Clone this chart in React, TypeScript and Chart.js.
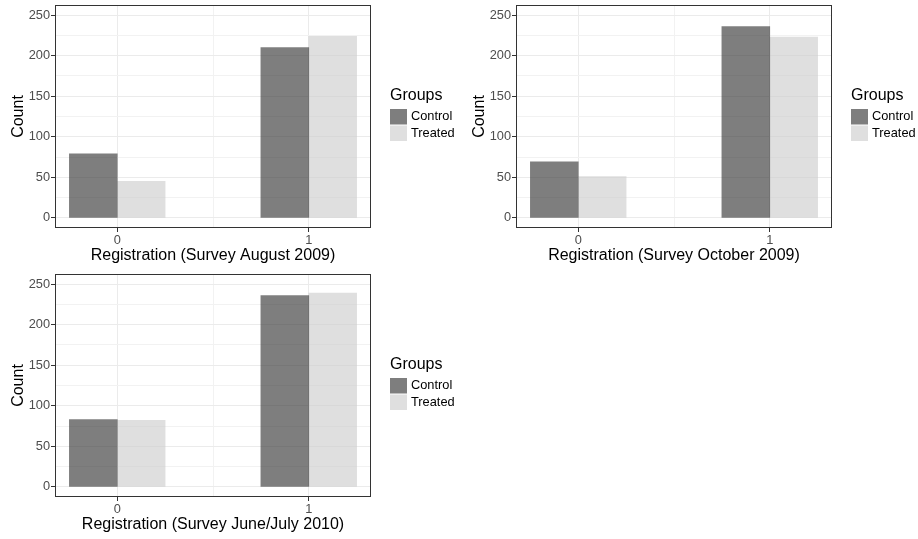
import React, { useEffect, useRef } from "react";
import { Chart, registerables } from "chart.js";

Chart.register(...registerables);

// ---------- data ----------
const categories = [0, 1];
const groupLabels = ["Control", "Treated"];
const aug2009Control = [79, 210];
const aug2009Treated = [45, 224];
const oct2009Control = [69, 236];
const oct2009Treated = [51, 223];
const jun2010Control = [83, 236];
const jun2010Treated = [82, 239];
const yTickValues = [0, 25, 50, 75, 100, 125, 150, 175, 200, 225, 250];
const yLabelValues = [0, 50, 100, 150, 200, 250];
const xGridValues = [0, 0.5, 1];
const xLabelValues = [0, 1];
const titleAug = "Registration (Survey August 2009)";
const titleOct = "Registration (Survey October 2009)";
const titleJun = "Registration (Survey June/July 2010)";
const yTitle = "Count";
const legendTitle = "Groups";

// ---------- styles ----------
const FONT = '"Liberation Sans", Arial, Helvetica, sans-serif';
const CONTROL_COLOR = "rgba(51,51,51,0.63)";
const TREATED_COLOR = "rgba(204,204,204,0.63)";
const MAJOR_GRID = "#ebebeb";
const MINOR_GRID = "#f2f2f2";
const TICK_COLOR = "#333333";
const TICK_TEXT = "#4d4d4d";

const CANVAS_W = 459;
const CANVAS_H = 270;

const panelPlugin = {
  id: "ggPanel",
  afterDatasetsDraw(chart: any) {
    const { ctx, chartArea } = chart;
    ctx.save();
    ctx.strokeStyle = "#333333";
    ctx.lineWidth = 1;
    ctx.strokeRect(
      chartArea.left + 0.5,
      chartArea.top + 0.5,
      chartArea.right - chartArea.left - 1,
      chartArea.bottom - chartArea.top - 1
    );
    ctx.restore();
  },
  afterDraw(chart: any) {
    const { ctx, chartArea } = chart;
    const x0 = chartArea.right + 19;
    const cy = (chartArea.top + chartArea.bottom) / 2;
    ctx.save();
    ctx.textAlign = "left";
    ctx.textBaseline = "middle";
    ctx.fillStyle = "#000000";
    ctx.font = `16px ${FONT}`;
    ctx.fillText(legendTitle, x0, cy - 20.5);
    chart.data.datasets.forEach((ds: any, i: number) => {
      const top = cy - 7.5 + i * 16.5;
      ctx.fillStyle = ds.backgroundColor;
      ctx.fillRect(x0, top, 17, 15.5);
      ctx.fillStyle = "#000000";
      ctx.font = `12.8px ${FONT}`;
      ctx.fillText(ds.label, x0 + 21, top + 7.75);
    });
    ctx.restore();
  },
};

function Panel(props: {
  control: number[];
  treated: number[];
  xTitle: string;
  left: number;
  top: number;
}) {
  const ref = useRef<HTMLCanvasElement | null>(null);

  useEffect(() => {
    if (!ref.current) return;
    const chart = new Chart(ref.current, {
      type: "bar",
      data: {
        datasets: [
          {
            label: groupLabels[0],
            data: categories.map((c, i) => ({ x: c, y: props.control[i] })),
            backgroundColor: CONTROL_COLOR,
            borderWidth: 0,
          },
          {
            label: groupLabels[1],
            data: categories.map((c, i) => ({ x: c, y: props.treated[i] })),
            backgroundColor: TREATED_COLOR,
            borderWidth: 0,
          },
        ],
      },
      options: {
        responsive: false,
        animation: false,
        devicePixelRatio: 1,
        events: [],
        layout: { padding: { top: 5, right: 88, bottom: 0, left: 0 } },
        datasets: {
          bar: { categoryPercentage: 1, barPercentage: 1 },
        },
        plugins: {
          legend: { display: false },
          tooltip: { enabled: false },
          title: { display: false },
        },
        scales: {
          x: {
            type: "linear",
            min: -0.325,
            max: 1.325,
            bounds: "data",
            offset: false,
            afterBuildTicks: (scale: any) => {
              scale.ticks = xGridValues.map((v) => ({ value: v }));
            },
            afterFit: (scale: any) => {
              scale.height = 42;
              scale.paddingLeft = 0;
              scale.paddingRight = 0;
              scale.paddingTop = 0;
              scale.paddingBottom = 0;
            },
            grid: {
              offset: false,
              color: (ctx: any) =>
                ctx.tick && xLabelValues.includes(ctx.tick.value) ? MAJOR_GRID : MINOR_GRID,
              lineWidth: 1,
              drawTicks: true,
              tickLength: 4,
              tickColor: (ctx: any) =>
                ctx.tick && xLabelValues.includes(ctx.tick.value) ? TICK_COLOR : "rgba(0,0,0,0)",
              tickWidth: 1,
            },
            border: { display: false },
            ticks: {
              autoSkip: false,
              maxRotation: 0,
              minRotation: 0,
              padding: 1,
              color: TICK_TEXT,
              font: { family: FONT, size: 12.8 },
              callback: (v: any) => (xLabelValues.includes(Number(v)) ? String(v) : ""),
            },
            title: {
              display: true,
              text: props.xTitle,
              color: "#000000",
              font: { family: FONT, size: 16 },
              padding: { top: 0, bottom: 5 },
            },
          },
          y: {
            type: "linear",
            min: -12.5,
            max: 262.5,
            bounds: "data",
            afterBuildTicks: (scale: any) => {
              scale.ticks = yTickValues.map((v) => ({ value: v }));
            },
            afterFit: (scale: any) => {
              scale.width = 55;
              scale.paddingLeft = 0;
              scale.paddingRight = 0;
              scale.paddingTop = 0;
              scale.paddingBottom = 0;
            },
            grid: {
              color: (ctx: any) =>
                ctx.tick && yLabelValues.includes(ctx.tick.value) ? MAJOR_GRID : MINOR_GRID,
              lineWidth: 1,
              drawTicks: true,
              tickLength: 4,
              tickColor: (ctx: any) =>
                ctx.tick && yLabelValues.includes(ctx.tick.value) ? TICK_COLOR : "rgba(0,0,0,0)",
              tickWidth: 1,
            },
            border: { display: false },
            ticks: {
              autoSkip: false,
              padding: 1,
              color: TICK_TEXT,
              font: { family: FONT, size: 12.8 },
              callback: (v: any) => (yLabelValues.includes(Number(v)) ? String(v) : ""),
            },
            title: {
              display: true,
              text: yTitle,
              color: "#000000",
              font: { family: FONT, size: 16 },
              padding: { top: 9, bottom: 0 },
            },
          },
        },
      } as any,
      plugins: [panelPlugin],
    });
    return () => chart.destroy();
  }, []);

  return (
    <canvas
      ref={ref}
      width={CANVAS_W}
      height={CANVAS_H}
      style={{
        position: "absolute",
        left: props.left,
        top: props.top,
        width: CANVAS_W,
        height: CANVAS_H,
      }}
    />
  );
}

export default function App() {
  return (
    <div
      style={{
        position: "absolute",
        left: 0,
        top: 0,
        width: 918,
        height: 539,
        background: "#ffffff",
        overflow: "hidden",
      }}
    >
      <Panel control={aug2009Control} treated={aug2009Treated} xTitle={titleAug} left={0} top={0} />
      <Panel control={oct2009Control} treated={oct2009Treated} xTitle={titleOct} left={461} top={0} />
      <Panel control={jun2010Control} treated={jun2010Treated} xTitle={titleJun} left={0} top={269} />
    </div>
  );
}
